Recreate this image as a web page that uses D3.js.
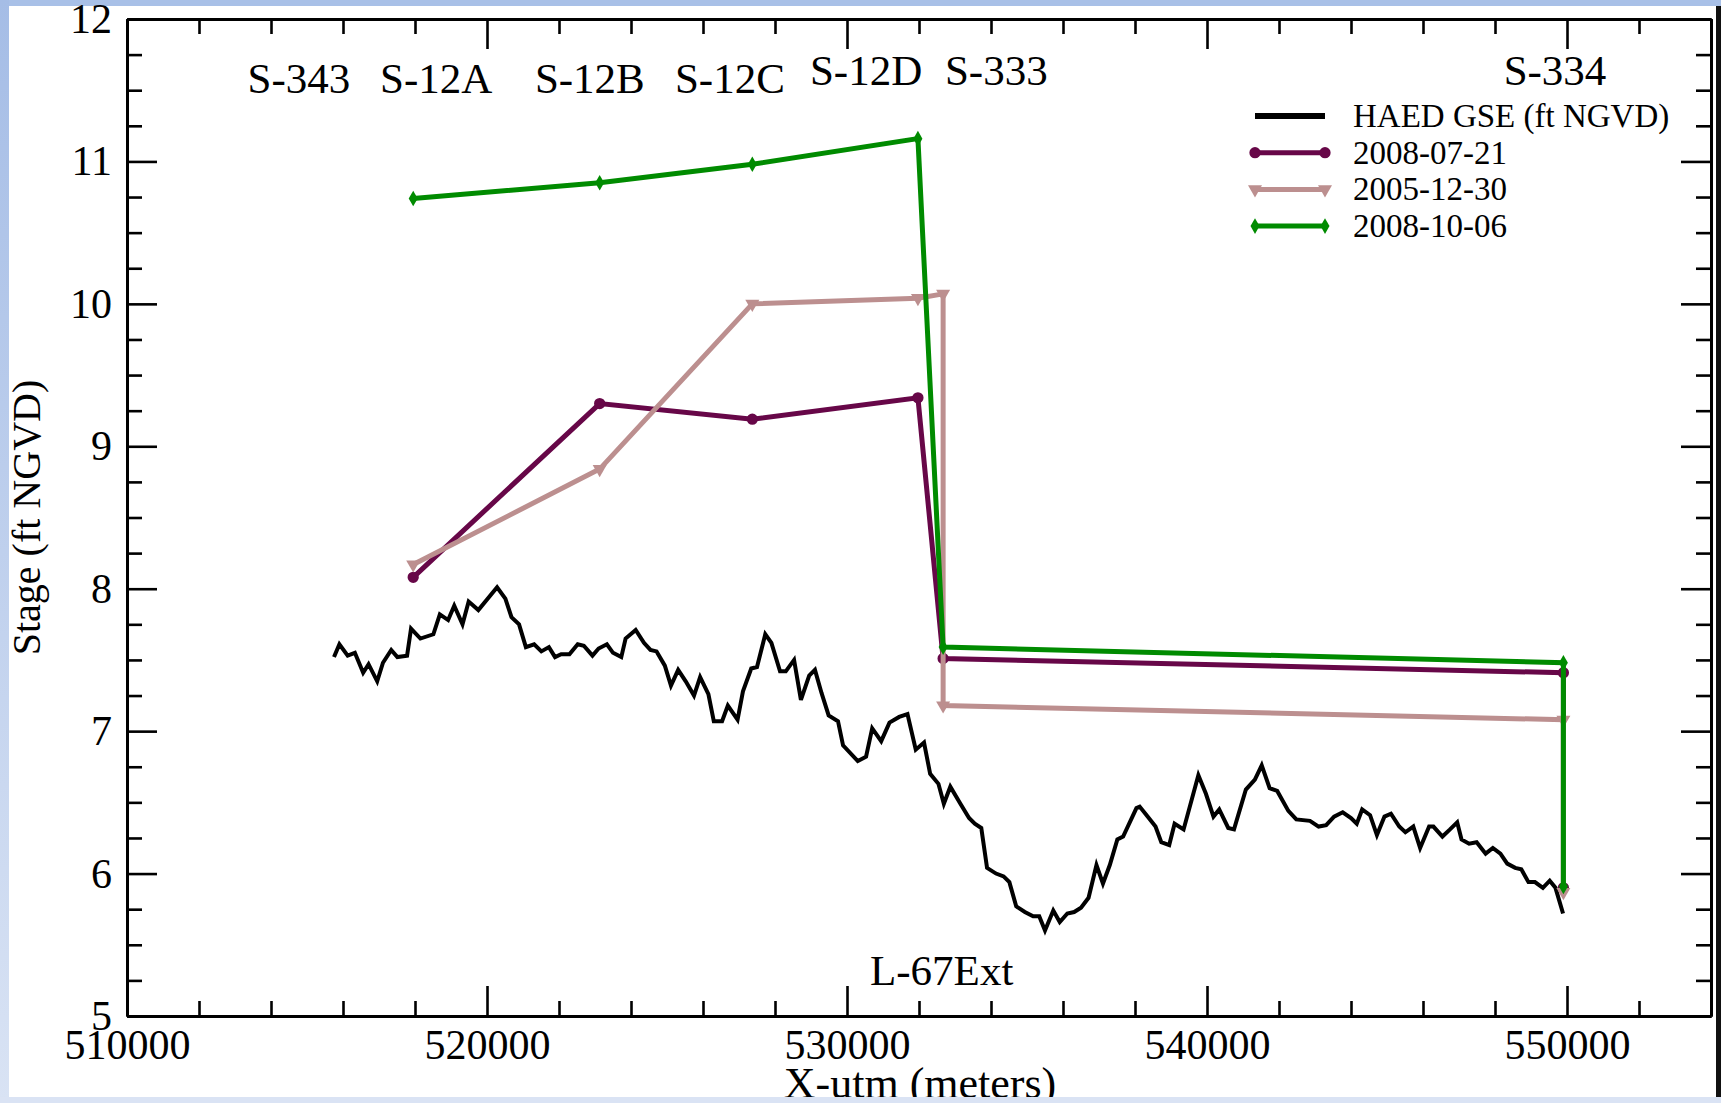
<!DOCTYPE html>
<html>
<head>
<meta charset="utf-8">
<script src="https://cdn.jsdelivr.net/npm/d3@7"></script>
<style>
body { margin: 0; background: #fff; }
svg text { font-family: "Liberation Serif", "Times New Roman", serif; fill: #000; }
</style>
</head>
<body>
<svg id="chart" width="1721" height="1103"></svg>
<script>
// tick labels
var xTicks = [510000, 520000, 530000, 540000, 550000];
var yTicks = [5, 6, 7, 8, 9, 10, 11, 12];

// ground surface elevation profile (HAED GSE), x-utm / ft NGVD
var gseX = [515750, 515900, 516130, 516330, 516560, 516710, 516950, 517110, 517340, 517510,
  517780, 517890, 518150, 518510, 518690, 518920, 519090, 519320, 519490, 519760,
  520280, 520510, 520680, 520890, 521080, 521310, 521510, 521720, 521890, 522060,
  522290, 522520, 522690, 522930, 523100, 523330, 523500, 523730, 523850, 524130,
  524360, 524540, 524710, 524940, 525110, 525310, 525520, 525750, 525920, 526150,
  526300, 526530, 526690, 526960, 527110, 527340, 527500, 527730, 527900, 528140,
  528300, 528530, 528720, 528950, 529110, 529290, 529490, 529750, 529890, 530300,
  530530, 530700, 530950, 531180, 531450, 531680, 531910, 532140, 532310, 532540,
  532690, 532870, 533150, 533390, 533550, 533730, 533890, 534140, 534350, 534510,
  534700, 534940, 535170, 535340, 535500, 535730, 535910, 536120, 536310, 536500,
  536710, 536930, 537110, 537300, 537510, 537670, 538040, 538130, 538350, 538570,
  538730, 538950, 539100, 539350, 539760, 539970, 540180, 540340, 540590, 540750,
  541080, 541330, 541520, 541740, 541950, 542260, 542480, 542860, 543100, 543310,
  543530, 543770, 544000, 544160, 544310, 544530, 544720, 544930, 545110, 545340,
  545510, 545730, 545920, 546170, 546290, 546540, 546750, 546950, 547070, 547280,
  547490, 547740, 547940, 548150, 548340, 548560, 548730, 548930, 549110, 549330,
  549520, 549680, 549890];
var gseY = [7.52, 7.61, 7.53, 7.55, 7.41, 7.47, 7.35, 7.48, 7.57, 7.52,
  7.53, 7.72, 7.65, 7.68, 7.82, 7.78, 7.88, 7.75, 7.91, 7.85,
  8.01, 7.93, 7.80, 7.75, 7.59, 7.61, 7.56, 7.59, 7.52, 7.54,
  7.54, 7.61, 7.60, 7.53, 7.58, 7.61, 7.55, 7.52, 7.65, 7.71,
  7.62, 7.57, 7.56, 7.46, 7.32, 7.43, 7.35, 7.25, 7.38, 7.26,
  7.07, 7.07, 7.18, 7.08, 7.28, 7.44, 7.45, 7.68, 7.62, 7.42,
  7.42, 7.50, 7.22, 7.39, 7.43, 7.27, 7.11, 7.07, 6.90, 6.79,
  6.82, 7.02, 6.93, 7.06, 7.10, 7.12, 6.87, 6.92, 6.70, 6.63,
  6.49, 6.61, 6.49, 6.39, 6.35, 6.32, 6.04, 6.00, 5.98, 5.94,
  5.77, 5.73, 5.70, 5.70, 5.60, 5.74, 5.66, 5.72, 5.73, 5.76,
  5.83, 6.06, 5.93, 6.06, 6.24, 6.26, 6.46, 6.47, 6.40, 6.33,
  6.22, 6.20, 6.35, 6.31, 6.69, 6.56, 6.40, 6.45, 6.32, 6.31,
  6.59, 6.66, 6.76, 6.60, 6.58, 6.44, 6.38, 6.37, 6.33, 6.34,
  6.40, 6.43, 6.39, 6.35, 6.45, 6.41, 6.27, 6.40, 6.42, 6.33,
  6.29, 6.33, 6.18, 6.33, 6.33, 6.26, 6.31, 6.36, 6.24, 6.21,
  6.22, 6.14, 6.18, 6.14, 6.07, 6.04, 6.03, 5.94, 5.94, 5.90,
  5.95, 5.90, 5.72];

// stage profiles along the structures
var jul2008X = [517950, 523130, 527370, 531970, 532670, 549900, 549900];
var jul2008Y = [8.08, 9.30, 9.19, 9.34, 7.51, 7.41, 5.90];
var dec2005X = [517950, 523130, 527370, 531970, 532670, 532670, 549900, 549900];
var dec2005Y = [8.17, 8.84, 10.00, 10.04, 10.07, 7.18, 7.08, 5.87];
var oct2008X = [517950, 523130, 527370, 531970, 532670, 549900, 549900];
var oct2008Y = [10.74, 10.85, 10.98, 11.16, 7.59, 7.48, 5.91];

var seriesNames = ['HAED GSE (ft NGVD)', '2008-07-21', '2005-12-30', '2008-10-06'];

// structure labels (x, y in data units)
var labelNames = ['S-343', 'S-12A', 'S-12B', 'S-12C', 'S-12D', 'S-333', 'S-334', 'L-67Ext'];
var labelX = [513350, 517030, 521330, 525220, 528970, 532720, 548240, 530640];
var labelY = [11.48, 11.48, 11.48, 11.48, 11.54, 11.54, 11.54, 5.22];

var width = 1721, height = 1103;
var plot = { left: 127, right: 1711, top: 19, bottom: 1016 };
var colors = ['#000000', '#670748', '#bc8f8f', '#008b00'];
var serif = '"Liberation Serif", "Times New Roman", serif';

var x = d3.scaleLinear().domain([510000, 554000]).range([plot.left, plot.right]);
var y = d3.scaleLinear().domain([5, 12]).range([plot.bottom, plot.top]);

var svg = d3.select('#chart');

// slide frame around the picture
var grad = svg.append('defs').append('linearGradient')
  .attr('id', 'sideband').attr('x1', 0).attr('y1', 0).attr('x2', 0).attr('y2', 1);
grad.append('stop').attr('offset', '0%').attr('stop-color', '#a5bde6');
grad.append('stop').attr('offset', '100%').attr('stop-color', '#d9e3f4');
svg.append('rect').attr('x', 0).attr('y', 0).attr('width', width).attr('height', 6).attr('fill', '#a8c0e7');
svg.append('rect').attr('x', 0).attr('y', 0).attr('width', 9).attr('height', height).attr('fill', 'url(#sideband)');
svg.append('rect').attr('x', 1716).attr('y', 6).attr('width', 5).attr('height', 1092).attr('fill', '#111');

var g = svg.append('g').style('font-family', serif);

// axes, ticks pointing inwards on all four sides
var majorLen = 30, minorLen = 15;
var xMinor = d3.range(510000, 554001, 2000).filter(function(v){ return v % 10000 !== 0; });
var yMinor = d3.range(5, 12.01, 0.25).filter(function(v){ return v % 1 !== 0; });

function axisPair(maker, scale, majors, minors, transform, withLabels) {
  var gMin = g.append('g').attr('transform', transform)
    .call(maker(scale).tickValues(minors).tickSizeInner(-minorLen).tickSizeOuter(0).tickFormat(''));
  var gMaj = g.append('g').attr('transform', transform)
    .call(maker(scale).tickValues(majors).tickSizeInner(-majorLen).tickSizeOuter(0)
      .tickPadding(maker === d3.axisBottom ? 13 : 15)
      .tickFormat(withLabels ? d3.format('d') : ''));
  [gMin, gMaj].forEach(function(a){
    a.select('.domain').attr('stroke-width', 3).attr('stroke', '#000');
    a.selectAll('.tick line').attr('stroke-width', 2.6).attr('stroke', '#000');
    a.attr('font-family', serif).attr('font-size', 42);
    a.selectAll('text').style('font-family', serif);
  });
  return gMaj;
}

axisPair(d3.axisBottom, x, xTicks, xMinor, 'translate(0,' + plot.bottom + ')', true);
axisPair(d3.axisTop, x, xTicks, xMinor, 'translate(0,' + plot.top + ')', false);
axisPair(d3.axisLeft, y, yTicks, yMinor, 'translate(' + plot.left + ',0)', true);
axisPair(d3.axisRight, y, yTicks, yMinor, 'translate(' + plot.right + ',0)', false);

// axis titles
g.append('text')
  .attr('transform', 'translate(40,' + ((plot.top + plot.bottom) / 2) + ') rotate(-90)')
  .attr('text-anchor', 'middle').attr('font-size', 40)
  .style('font-family', serif)
  .text('Stage (ft NGVD)');
g.append('text')
  .attr('x', 920).attr('y', 1098)
  .attr('text-anchor', 'middle').attr('font-size', 44)
  .style('font-family', serif)
  .text('X-utm (meters)');

// structure labels
g.selectAll('text.station')
  .data(labelNames)
  .enter().append('text').attr('class', 'station')
  .attr('x', function(d, i){ return x(labelX[i]); })
  .attr('y', function(d, i){ return y(labelY[i]); })
  .attr('font-size', 43)
  .style('font-family', serif)
  .text(function(d){ return d; });

// symbols
var symCircle = d3.symbol().type(d3.symbolCircle).size(100);
var symTri = d3.symbol().type(d3.symbolTriangle).size(85);
var symDiamond = d3.symbol().type(d3.symbolDiamond).size(70);
var symbols = [null, symCircle, symTri, symDiamond];
var rotations = [0, 0, 180, 0];

var line = d3.line()
  .x(function(d){ return x(d[0]); })
  .y(function(d){ return y(d[1]); });

var series = [
  d3.zip(gseX, gseY),
  d3.zip(jul2008X, jul2008Y),
  d3.zip(dec2005X, dec2005Y),
  d3.zip(oct2008X, oct2008Y)
];

series.forEach(function(pts, i){
  g.append('path')
    .datum(pts)
    .attr('fill', 'none')
    .attr('stroke', colors[i])
    .attr('stroke-width', i === 0 ? 4 : 5)
    .attr('stroke-linejoin', 'miter')
    .attr('d', line);
  if (symbols[i]) {
    g.append('g').selectAll('path')
      .data(pts)
      .enter().append('path')
      .attr('d', symbols[i])
      .attr('fill', colors[i])
      .attr('transform', function(d){
        return 'translate(' + x(d[0]) + ',' + y(d[1]) + ') rotate(' + rotations[i] + ')';
      });
  }
});

// legend
var legend = g.append('g').attr('transform', 'translate(1255,116)');
var rowH = 36.7;
seriesNames.forEach(function(name, i){
  var row = legend.append('g').attr('transform', 'translate(0,' + (i * rowH) + ')');
  row.append('line')
    .attr('x1', 0).attr('x2', 70).attr('y1', 0).attr('y2', 0)
    .attr('stroke', colors[i]).attr('stroke-width', i === 0 ? 6 : 5);
  if (symbols[i]) {
    [0, 70].forEach(function(px){
      row.append('path').attr('d', symbols[i]).attr('fill', colors[i])
        .attr('transform', 'translate(' + px + ',0) rotate(' + rotations[i] + ')');
    });
  }
  row.append('text')
    .attr('x', 98).attr('y', 0).attr('dy', '0.33em')
    .attr('font-size', 33)
    .style('font-family', serif)
    .text(name);
});

// bottom slide band over the clipped title
svg.append('rect').attr('x', 0).attr('y', 1097).attr('width', width).attr('height', 6).attr('fill', '#dae3f4');
</script>
</body>
</html>
